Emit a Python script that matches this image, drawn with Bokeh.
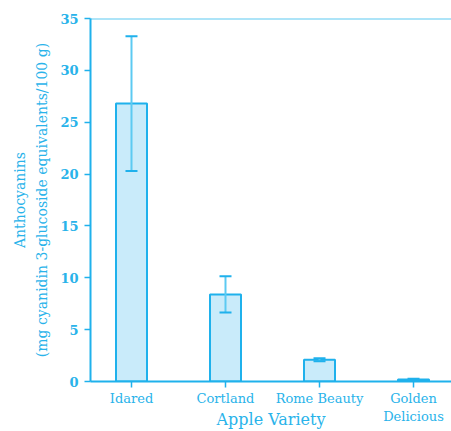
from bokeh.plotting import figure
from bokeh.models import ColumnDataSource, Whisker, FixedTicker, Range1d
from bokeh.embed import file_html
from bokeh.resources import INLINE

varieties = ["Idared", "Cortland", "Rome Beauty", "Golden\nDelicious"]
anthocyanins = [26.8, 8.4, 2.1, 0.2]
errors = [6.5, 1.75, 0.15, 0.06]
y_ticks = [0, 5, 10, 15, 20, 25, 30, 35]

BLUE = "#1fb1ec"
TEXT = "#29b3ea"
FILL = "#c9ebfa"
FONT = "DejaVu Serif"

xs = list(range(len(varieties)))
src = ColumnDataSource(dict(
    x=xs, top=anthocyanins,
    upper=[v + e for v, e in zip(anthocyanins, errors)],
    lower=[v - e for v, e in zip(anthocyanins, errors)],
))

p = figure(width=451, height=431, output_backend="svg", toolbar_location=None,
           x_range=Range1d(-0.436, 3.404), y_range=Range1d(0, 35),
           min_border_left=90, min_border_top=18, min_border_bottom=50, min_border_right=0)
p.outline_line_color = None
p.grid.visible = False
p.background_fill_color = "white"

p.vbar(x="x", top="top", width=0.33, source=src, fill_color=FILL,
       line_color=BLUE, line_width=2)

w = Whisker(source=src, base="x", upper="upper", lower="lower",
            line_color="#5ccaf2", line_width=2, level="overlay")
w.upper_head.line_color = BLUE
w.lower_head.line_color = BLUE
w.upper_head.line_width = 2
w.lower_head.line_width = 2
w.upper_head.size = 12
w.lower_head.size = 12
p.add_layout(w)

# top border line
p.line(x=[-0.436, 3.404], y=[35, 35], line_color="#5ccaf2", line_width=2)

p.xaxis.ticker = FixedTicker(ticks=xs)
p.xaxis.major_label_overrides = {i: v for i, v in enumerate(varieties)}
p.yaxis.ticker = FixedTicker(ticks=y_ticks)

for ax in (p.xaxis, p.yaxis):
    ax.axis_line_color = BLUE
    ax.axis_line_width = 2
    ax.major_tick_line_color = BLUE
    ax.major_tick_line_width = 1.5
    ax.minor_tick_line_color = None
    ax.major_tick_in = 0
    ax.major_tick_out = 6
    ax.major_label_text_color = TEXT
    ax.major_label_text_font = FONT
    ax.major_label_text_font_size = "13px"
    ax.axis_label_text_color = TEXT
    ax.axis_label_text_font = FONT
    ax.axis_label_text_font_style = "normal"

p.xaxis.major_label_standoff = 3
p.xaxis.axis_label = "Apple Variety"
p.xaxis.axis_label_text_font_size = "16px"
p.xaxis.axis_label_standoff = -17

p.yaxis.major_label_standoff = 6
p.yaxis.major_label_text_font_style = "bold"
p.yaxis.major_label_text_font_size = "13px"
p.yaxis.axis_label = "Anthocyanins\n(mg cyanidin 3-glucoside equivalents/100 g)"
p.yaxis.axis_label_text_font_size = "14px"
p.yaxis.axis_label_text_line_height = 1.4
p.yaxis.axis_label_standoff = 7

open("out.html", "w").write(file_html(p, INLINE))
